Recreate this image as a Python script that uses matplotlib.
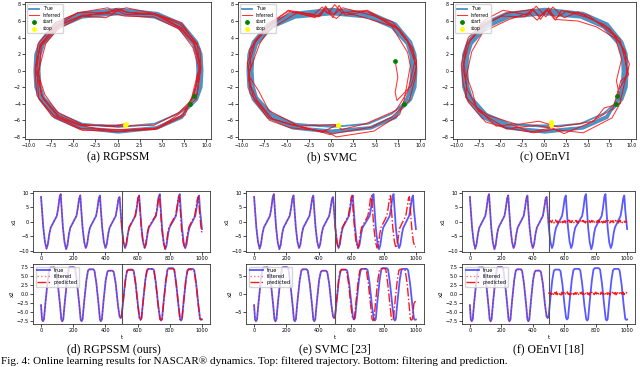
import numpy as np
import matplotlib
matplotlib.use("Agg")
import matplotlib.pyplot as plt

# ---------------- top row: NASCAR trajectories ----------------
true_xy = [
    (8.2, -4.0), (9.2, -2.0), (9.3, 0.0), (9.2, 2.0), (8.7, 3.3), (7.1, 5.5), (4.4, 6.8), (0.1, 7.2),
    (-4.2, 6.8), (-6.9, 5.5), (-8.5, 3.3), (-9.0, 2.0), (-9.1, 0.0), (-9.0, -2.0), (-8.5, -3.3), (-6.9, -5.5),
    (-4.2, -6.8), (0.1, -7.2), (4.4, -6.8), (7.1, -5.5),
    (9.0, -3.5), (9.5, -2.0), (9.6, 0.0), (9.5, 2.0), (9.0, 3.5), (7.3, 5.7), (4.5, 7.0), (0.1, 7.5),
    (-4.3, 7.0), (-7.1, 5.7), (-8.8, 3.5), (-9.3, 2.0), (-9.4, 0.0), (-9.3, -2.0), (-8.8, -3.5), (-7.1, -5.7),
    (-4.3, -7.0), (0.1, -7.5), (4.5, -7.0), (7.3, -5.7),
    (8.5, -3.2), (8.9, -1.8), (9.0, 0.0), (8.9, 1.8), (8.5, 3.2), (6.8, 5.2), (4.2, 6.4), (0.1, 6.8),
    (-4.0, 6.4), (-6.6, 5.2), (-8.3, 3.2), (-8.7, 1.8), (-8.8, 0.0), (-8.7, -1.8), (-8.3, -3.2), (-6.6, -5.2),
    (-4.0, -6.4), (0.1, -6.8), (4.2, -6.4), (6.8, -5.2),
    (8.8, -3.4), (9.3, -2.0), (9.4, 0.0), (9.3, 2.0), (8.8, 3.4), (7.2, 5.5), (4.4, 6.9), (0.1, 7.3),
    (-4.2, 6.9), (-7.0, 5.5), (-8.6, 3.4), (-9.1, 2.0), (-9.2, 0.0), (-9.1, -2.0), (-8.6, -3.4), (-7.0, -5.5),
    (-4.2, -6.9), (0.1, -7.3), (4.4, -6.9), (7.2, -5.5),
    (8.6, -3.2), (9.1, -1.9), (9.2, 0.0), (9.1, 1.9), (8.6, 3.2), (7.0, 5.3), (4.3, 6.6), (0.1, 7.0),
    (-4.1, 6.6), (-6.8, 5.3), (-8.4, 3.2), (-8.9, 1.9), (-9.0, 0.0), (-8.9, -1.9), (-8.4, -3.2), (-6.8, -5.3),
    (-4.1, -6.6), (0.8, -6.6),
]

inferred_rgpssm = [
    (8.6, -3.0), (9.1, -0.6), (9.4, 0.4), (8.7, 3.3), (7.2, 5.2), (4.2, 6.9), (1.2, 7.0), (0.3, 7.4),
    (-0.6, 6.9), (-4.0, 6.7), (-7.1, 5.3), (-8.7, 3.0), (-9.3, 0.3), (-8.4, -3.4), (-6.7, -5.6), (-4.3, -6.6),
    (-0.3, -7.4), (4.6, -6.9), (7.0, -5.2), (8.9, -3.4), (9.4, 0.3), (9.3, 2.6), (7.2, 5.8), (4.2, 6.9),
    (1.0, 7.6), (-0.5, 7.2), (-1.1, 7.6), (-4.5, 7.0), (-7.0, 5.8), (-9.0, 3.2), (-9.3, -0.4), (-9.1, -3.0),
    (-7.4, -5.5), (-4.0, -7.2), (0.4, -7.3), (4.3, -7.1), (7.6, -5.4), (8.4, -3.1), (9.2, 0.3), (8.5, 2.8),
    (7.0, 5.0), (4.1, 6.5), (0.8, 6.6), (-0.4, 6.9), (-1.3, 6.4), (-3.9, 6.6), (-6.8, 5.0), (-8.1, 3.3),
    (-9.0, -0.3), (-8.2, -2.9), (-6.8, -5.0), (-3.8, -6.6), (0.3, -6.7), (4.1, -6.6), (7.0, -5.0), (9.0, -2.8),
    (9.3, 0.3), (9.0, 3.3), (7.1, 5.6), (4.6, 6.7), (0.9, 7.1), (-0.2, 7.5), (-1.0, 7.0), (-4.5, 7.0),
    (-6.9, 5.4), (-8.8, 3.1), (-9.1, 0.2), (-8.9, -3.3), (-7.2, -5.4), (-4.1, -7.0), (0.3, -7.1), (4.3, -7.0),
    (7.4, -5.3), (8.5, -3.1), (9.4, 0.2), (8.6, 3.3), (7.1, 5.1), (4.2, 6.8), (0.9, 6.8), (-0.1, 7.3),
    (-4.3, 6.5), (-6.7, 5.4), (-8.6, 3.0), (-8.9, -0.3), (-8.6, -3.0), (-6.7, -5.4), (-4.3, -6.5), (-0.5, -6.7),
    (0.9, -6.4),
]

inferred_svmc = [
    (7.2, 1.2), (7.5, -0.8), (7.2, -2.6), (7.4, -3.6), (9.0, -1.8), (9.6, 0.5), (8.6, 3.5), (7.5, 5.0),
    (4.0, 7.2), (1.6, 6.7), (0.9, 7.9), (0.2, 6.4), (-0.6, 7.8), (-1.4, 6.5), (-4.6, 7.1), (-7.4, 5.0),
    (-8.6, 3.6), (-9.4, 0.9), (-9.0, -1.9), (-8.3, -3.6), (-6.6, -5.8), (-4.7, -6.4), (-1.4, -7.3), (-0.2, -7.7),
    (4.6, -6.8), (6.8, -5.6), (8.8, -3.6), (9.5, -0.6), (9.6, 1.2), (8.6, 3.7), (7.6, 5.1), (4.1, 7.3),
    (1.2, 7.0), (0.4, 8.0), (-0.3, 6.9), (-1.0, 7.7), (-1.9, 6.8), (-4.8, 7.2), (-6.7, 5.9), (-9.2, 2.5),
    (-9.0, 0.7), (-9.3, -0.9), (-8.6, -3.6), (-6.9, -6.0), (-4.6, -6.9), (-0.6, -7.3), (0.6, -8.0), (4.8, -7.3),
    (7.7, -5.3), (8.2, -3.6), (8.9, 0.6), (8.6, 2.2), (6.8, 5.4), (3.8, 6.4), (1.4, 7.1), (0.6, 6.3),
    (-0.8, 7.3), (-1.8, 6.4), (-3.8, 7.0), (-7.0, 4.9), (-8.0, 3.3), (-9.3, -0.5), (-8.1, -2.5), (-7.0, -4.8),
    (-3.6, -6.7), (0.5, -6.5), (1.2, -7.1), (3.9, -6.4), (7.3, -4.8), (8.6, -2.5), (9.4, 1.0), (9.2, 2.7),
    (6.9, 5.9), (4.9, 6.6), (1.3, 7.6), (0.3, 6.8), (-0.6, 7.6), (-1.2, 6.6), (-4.8, 7.3), (-6.6, 5.8),
    (-8.5, 3.5), (-9.3, 0.4), (-9.1, -2.7), (-6.8, -5.8), (-4.6, -6.5), (-1.0, -7.4), (0.8, -6.5),
]

inferred_oenvi = [
    (8.4, -3.0), (8.8, -1.2), (9.7, -0.5), (9.1, 2.1), (8.7, 3.8), (6.8, 5.6), (4.8, 6.5), (2.0, 7.3),
    (1.3, 6.1), (0.5, 7.6), (-0.4, 6.2), (-1.3, 7.5), (-2.2, 6.5), (-4.9, 6.6), (-7.2, 5.3), (-8.5, 3.7),
    (-9.2, 1.0), (-8.9, -1.9), (-9.0, -3.2), (-7.1, -5.1), (-5.5, -6.7), (-3.8, -6.5), (-1.5, -7.4), (0.9, -6.9),
    (2.3, -7.6), (5.0, -6.4), (6.2, -5.7), (7.9, -4.6), (8.5, -2.4), (9.4, -0.8), (9.8, 0.8), (8.7, 3.4),
    (7.5, 5.1), (3.9, 7.1), (2.3, 6.4), (1.0, 7.7), (0.2, 6.5), (-0.9, 7.8), (-1.8, 6.7), (-4.7, 7.3),
    (-6.7, 6.2), (-8.7, 4.0), (-9.5, 0.8), (-9.3, -1.5), (-8.7, -3.8), (-6.7, -6.2), (-4.3, -6.9), (-1.2, -7.5),
    (1.1, -7.1), (4.5, -7.5), (7.8, -5.7), (8.8, -3.8), (8.3, -1.2), (8.9, 1.4), (8.2, 3.9), (6.0, 5.3),
    (3.9, 6.0), (1.2, 6.2), (0.3, 7.4), (-0.8, 6.1), (-1.7, 7.0), (-4.0, 6.2), (-7.0, 4.7), (-8.3, 2.3),
    (-8.9, -0.6), (-8.2, -2.6), (-7.8, -4.4), (-6.4, -5.4), (-3.1, -6.5), (-0.6, -6.1), (1.6, -6.8), (5.7, -6.1),
    (6.9, -4.5), (8.7, -4.0), (9.5, -0.2), (9.3, 2.4), (8.0, 4.3), (5.1, 6.7), (2.6, 7.2), (1.4, 6.4),
    (0.4, 7.3), (-0.5, 6.6), (-1.4, 7.4), (-4.4, 6.9), (-6.8, 5.6), (-8.9, 3.1), (-9.3, 0.3), (-8.8, -2.3),
    (-7.5, -4.9), (-5.7, -6.1), (-4.3, -7.0), (-0.9, -6.6), (0.6, -6.9), (0.8, -6.2),
]

top_captions = ["(a) RGPSSM", "(b) SVMC", "(c) OEnVI"]
bottom_captions = ["(d) RGPSSM (ours)", "(e) SVMC [23]", "(f) OEnVI [18]"]

# ---------------- bottom rows: time series ----------------
x1_true = [
    (0, 8.5), (6, 4.0), (14, -2.0), (24, -6.8), (34, -9.2), (42, -7.8), (52, -4.0), (60, -2.0), (98, 2.0),
    (106, 4.5), (115, 8.3), (122, 9.5), (128, 4.5), (136, -2.0), (146, -7.0), (156, -9.4), (164, -8.0),
    (174, -4.0), (182, -2.0), (220, 2.0), (228, 4.5), (237, 8.0), (244, 9.0), (250, 4.0), (258, -2.0),
    (268, -6.8), (278, -9.0), (286, -7.8), (296, -4.0), (304, -2.0), (342, 2.0), (350, 4.5), (359, 8.0),
    (366, 9.0), (372, 4.0), (380, -2.0), (390, -6.8), (400, -9.0), (408, -7.8), (418, -4.0), (426, -2.0),
    (464, 2.0), (472, 4.5), (481, 7.8), (488, 8.5), (494, 4.0), (502, -2.0), (512, -6.8), (522, -9.0),
    (530, -7.8), (540, -4.0), (548, -2.0), (586, 2.0), (594, 4.5), (603, 8.0), (610, 9.0), (616, 4.0),
    (624, -2.0), (634, -6.8), (644, -9.0), (652, -7.8), (662, -4.0), (670, -2.0), (714, 2.0), (722, 4.5),
    (731, 8.5), (738, 9.5), (744, 4.5), (752, -2.0), (762, -7.0), (772, -9.4), (780, -8.0), (790, -4.0),
    (798, -2.0), (838, 2.0), (846, 4.5), (855, 8.5), (862, 9.5), (868, 4.5), (876, -2.0), (886, -7.0),
    (896, -9.0), (904, -7.8), (914, -4.0), (922, -2.0), (958, 2.0), (966, 4.5), (975, 8.0), (982, 9.0),
    (988, 4.0), (1000, -2.5),
]
x2_true = [
    (0, -3.0), (6, -7.0), (12, -7.5), (18, -7.0), (28, -2.0), (42, 4.0), (52, 7.1), (60, 7.5), (84, 7.5),
    (92, 7.1), (104, 3.0), (118, -3.0), (126, -7.0), (132, -7.5), (138, -7.0), (148, -2.0), (162, 4.0),
    (172, 7.2), (180, 7.6), (204, 7.6), (212, 7.2), (224, 3.0), (238, -3.0), (246, -7.0), (252, -7.5),
    (258, -7.0), (268, -2.0), (282, 4.0), (292, 6.6), (300, 7.0), (324, 7.0), (332, 6.6), (344, 3.0),
    (358, -3.0), (366, -7.0), (372, -7.5), (378, -7.0), (388, -2.0), (402, 4.0), (412, 6.2), (420, 6.6),
    (444, 6.6), (452, 6.2), (464, 3.0), (478, -3.0), (488, -6.2), (494, -6.6), (500, -6.3), (510, -2.0),
    (524, 4.0), (534, 6.5), (542, 6.9), (568, 6.9), (576, 6.5), (588, 3.0), (602, -3.0), (612, -6.6),
    (618, -7.0), (624, -6.6), (634, -2.0), (648, 4.0), (658, 6.7), (666, 7.1), (694, 7.1), (702, 6.7),
    (714, 3.0), (728, -3.0), (740, -6.9), (746, -7.3), (752, -6.9), (762, -2.0), (776, 4.0), (786, 6.9),
    (794, 7.3), (820, 7.3), (828, 6.9), (840, 3.0), (854, -3.0), (864, -6.9), (870, -7.3), (876, -6.9),
    (886, -2.0), (900, 4.0), (910, 6.7), (918, 7.1), (944, 7.1), (952, 6.7), (964, 3.0), (978, -3.0),
    (988, -6.8), (994, -7.1), (1000, -7.0),
]
x1_filtered = [
    (0, 8.6), (6, 4.1), (14, -2.1), (24, -6.9), (34, -9.3), (42, -7.7), (52, -4.1), (60, -2.0), (98, 2.1),
    (106, 4.4), (115, 8.4), (122, 9.6), (128, 4.4), (136, -2.1), (146, -7.1), (156, -9.3), (164, -8.1),
    (174, -3.9), (182, -2.1), (220, 2.1), (228, 4.6), (237, 8.1), (244, 9.1), (250, 3.9), (258, -2.1),
    (268, -6.9), (278, -9.1), (286, -7.7), (296, -4.1), (304, -1.9), (342, 2.1), (350, 4.4), (359, 8.1),
    (366, 8.9), (372, 4.1), (380, -2.1), (390, -6.9), (400, -8.9), (408, -7.9), (418, -3.9), (426, -2.1),
    (464, 2.1), (472, 4.4), (481, 7.9), (488, 8.6), (494, 3.9), (500, -0.5),
]
x2_filtered = [
    (0, -3.0), (6, -7.1), (12, -7.4), (18, -7.0), (28, -2.1), (42, 4.1), (52, 7.0), (60, 7.5), (68, 7.3),
    (76, 7.6), (84, 7.4), (92, 7.0), (104, 3.1), (118, -3.1), (126, -7.0), (132, -7.5), (138, -7.1),
    (148, -2.0), (162, 4.1), (172, 7.3), (180, 7.7), (188, 7.4), (196, 7.6), (204, 7.5), (212, 7.1),
    (224, 3.0), (238, -3.1), (246, -7.1), (252, -7.4), (258, -7.0), (268, -2.1), (282, 4.0), (292, 6.7),
    (300, 7.1), (308, 6.8), (316, 7.1), (324, 6.9), (332, 6.5), (344, 3.1), (358, -3.0), (366, -7.1),
    (372, -7.4), (378, -7.0), (388, -2.0), (402, 4.1), (412, 6.3), (420, 6.7), (428, 6.4), (436, 6.8),
    (444, 6.5), (452, 6.2), (464, 3.0), (478, -3.1), (488, -6.3), (494, -6.6), (500, -6.3),
]

# predictions (t >= 500)
x1_pred_rgpssm = [
    (500, 0.5), (504, -2.5), (512, -7.0), (522, -8.8), (530, -7.5), (540, -3.8), (548, -1.8), (586, 2.2),
    (594, 4.8), (603, 8.3), (609, 8.8), (615, 4.0), (623, -2.2), (633, -7.0), (643, -8.8), (651, -7.6),
    (661, -3.8), (669, -1.8), (713, 2.2), (721, 4.8), (730, 8.2), (736, 9.0), (742, 4.3), (750, -2.2),
    (760, -7.0), (770, -9.2), (778, -7.8), (788, -3.9), (796, -1.8), (836, 2.2), (844, 4.8), (853, 8.0),
    (859, 8.8), (865, 4.3), (873, -2.3), (883, -7.0), (893, -9.2), (901, -7.6), (911, -3.9), (919, -1.8),
    (955, 2.1), (963, 4.8), (972, 7.8), (978, 8.6), (984, 4.0), (992, -1.0), (1000, -4.0),
]
x2_pred_rgpssm = [
    (500, -6.3), (510, -2.2), (524, 3.8), (534, 6.4), (542, 6.8), (568, 6.8), (576, 6.4), (588, 2.8),
    (602, -3.2), (612, -6.8), (618, -7.2), (624, -6.8), (634, -2.2), (648, 3.8), (658, 6.6), (666, 7.0),
    (694, 7.0), (702, 6.6), (714, 2.8), (728, -3.2), (740, -7.0), (746, -7.2), (752, -6.8), (762, -2.2),
    (776, 3.8), (786, 6.8), (794, 7.1), (820, 7.1), (828, 6.8), (840, 2.8), (854, -3.2), (864, -7.0),
    (870, -7.2), (876, -6.8), (886, -2.2), (900, 3.8), (910, 6.6), (918, 6.9), (944, 6.9), (952, 6.6),
    (964, 2.8), (978, -3.2), (988, -6.8), (994, -7.0), (1000, -6.8),
]
x1_pred_svmc = [
    (500, -0.5), (502, -2.2), (511, -7.0), (520, -9.0), (528, -7.8), (537, -4.0), (545, -2.0), (582, 2.0),
    (590, 4.5), (600, 8.3), (606, 9.0), (612, 4.0), (620, -2.0), (630, -6.8), (640, -9.0), (648, -7.8),
    (657, -4.0), (664, -2.0), (703, 2.0), (711, 4.5), (720, 8.3), (726, 9.0), (732, 4.0), (740, -2.0),
    (750, -6.8), (760, -9.0), (768, -7.8), (777, -4.0), (784, -2.0), (820, 2.0), (828, 4.5), (837, 8.3),
    (843, 9.0), (849, 4.0), (857, -2.0), (867, -6.8), (877, -9.0), (885, -7.8), (894, -4.0), (901, -2.0),
    (937, 2.0), (945, 4.5), (954, 8.0), (960, 8.6), (966, 4.0), (974, -2.0), (984, -6.8), (994, -8.5),
    (1000, -8.6),
]
x2_pred_svmc = [
    (500, -6.4), (508, -2.5), (522, 4.0), (532, 6.4), (540, 6.9), (564, 6.9), (572, 6.5), (584, 3.0),
    (598, -3.0), (608, -6.6), (614, -7.0), (620, -6.6), (630, -2.0), (644, 4.0), (654, 6.7), (662, 7.1),
    (686, 7.1), (694, 6.7), (706, 3.0), (720, -3.0), (729, -6.9), (735, -7.3), (741, -6.9), (751, -2.0),
    (765, 4.0), (775, 6.9), (783, 7.2), (806, 7.2), (814, 6.9), (826, 3.0), (840, -3.0), (849, -6.9),
    (855, -7.3), (861, -6.9), (871, -2.0), (885, 4.0), (895, 6.7), (903, 7.0), (926, 7.0), (934, 6.7),
    (946, 3.0), (958, -3.0), (966, -6.9), (972, -7.2), (978, -6.9), (988, -2.5), (1000, -1.8),
]
t_pred_oenvi = list(range(500, 1001, 5))
x1_pred_oenvi = [
    0.3, -0.2, 0.4, 0.1, -0.3, 0.5, 0.0, -0.4, 0.2, 0.6, -0.1, 0.3, -0.5, 0.1, 0.4, -0.2, 0.0, 0.5, -0.3, 0.2,
    -0.1, 0.4, -0.4, 0.3, 0.1, -0.2, 0.6, -0.1, 0.2, -0.3, 0.4, 0.0, -0.5, 0.3, 0.1, 0.5, -0.2, 0.2, -0.4, 0.3,
    0.0, 0.4, -0.3, 0.1, 0.5, -0.1, 0.2, -0.4, 0.3, 0.6, -0.2, 0.1, 0.4, -0.3, 0.0, 0.5, -0.1, 0.3, -0.4, 0.2,
    0.1, -0.3, 0.4, 0.0, 0.6, -0.2, 0.3, -0.1, 0.5, -0.4, 0.2, 0.1, -0.3, 0.4, 0.0, -0.2, 0.5, 0.1, -0.4, 0.3,
    0.2, -0.1, 0.4, -0.3, 0.0, 0.5, -0.2, 0.3, 0.1, -0.4, 0.2, 0.6, -0.1, 0.3, -0.3, 0.1, 0.4, -0.2, 0.2, 0.0, 0.1,
]
x2_pred_oenvi = [
    0.2, 0.5, -0.1, 0.4, 0.0, 0.6, 0.2, -0.2, 0.5, 0.1, 0.7, -0.1, 0.3, 0.5, 0.0, 0.4, -0.2, 0.6, 0.1, 0.3,
    0.5, -0.1, 0.4, 0.2, 0.7, 0.0, 0.3, -0.2, 0.5, 0.1, 0.4, 0.6, -0.1, 0.2, 0.5, 0.0, 0.3, 0.7, 0.1, -0.2,
    0.4, 0.2, 0.6, 0.0, 0.3, -0.1, 0.5, 0.2, 0.4, 0.7, 0.0, 0.3, -0.2, 0.5, 0.1, 0.6, 0.2, 0.4, -0.1, 0.3,
    0.6, 0.1, 0.4, -0.2, 0.5, 0.3, 0.0, 0.6, 0.2, 0.4, -0.1, 0.5, 0.1, 0.3, 0.7, 0.0, 0.4, 0.2, -0.2, 0.5,
    0.3, 0.6, 0.0, 0.4, 0.1, 0.5, -0.1, 0.3, 0.6, 0.2, 0.4, 0.0, 0.5, 0.1, 0.3, 0.6, -0.1, 0.4, 0.2, 0.5, 0.2,
]

fig_caption = "Fig. 4: Online learning results for NASCAR\u00ae dynamics. Top: filtered trajectory. Bottom: filtering and prediction."

# ---------------- drawing ----------------
W, H = 640, 367
fig = plt.figure(figsize=(6.4, 3.67), dpi=100)
serif = ["Liberation Serif", "DejaVu Serif"]


def ax_at(l, t, r, b):
    return fig.add_axes([l / W, 1 - b / H, (r - l) / W, (b - t) / H])


def style(ax, fs):
    for s in ax.spines.values():
        s.set_linewidth(0.6)
        s.set_color("#333333")
    ax.tick_params(labelsize=fs, length=2, width=0.5, pad=1)


def xy(pts):
    a = np.array(pts, dtype=float)
    return a[:, 0], a[:, 1]


top_boxes = [(25, 2, 211, 139), (238, 2, 425, 139), (453, 2, 636, 139)]
inferred_all = [inferred_rgpssm, inferred_svmc, inferred_oenvi]
tx, ty = xy(true_xy)
for box, inf, cap in zip(top_boxes, inferred_all, top_captions):
    ax = ax_at(*box)
    ix, iy = xy(inf)
    ax.plot(tx, ty, color="#1f77b4", lw=1.3, alpha=0.8, label="True")
    ax.plot(ix, iy, color="red", lw=0.75, alpha=0.8, label="Inferred")
    ax.scatter([tx[0], ix[0]], [ty[0], iy[0]], color="green", s=6, zorder=5, label="start")
    ax.scatter([tx[-1], ix[-1]], [ty[-1], iy[-1]], color="yellow", s=6, zorder=5, label="stop")
    ax.set_xlim(-10.45, 10.55)
    ax.set_ylim(-8.25, 8.3)
    ax.set_xticks(np.arange(-10, 10.1, 2.5))
    ax.set_yticks(np.arange(-8, 8.1, 2))
    style(ax, 3.3)
    ax.legend(loc="upper left", fontsize=3.3, handlelength=2.2, borderpad=0.4,
              labelspacing=0.35, framealpha=0.8, edgecolor="#cccccc", fancybox=True)
    cx = (box[0] + box[2]) / 2 / W
    fig.text(cx, 1 - 157 / H, cap, ha="center", va="center", fontsize=8.5, family=serif)

bot_x = [(33, 210), (246, 424), (462, 635)]
x1_preds = [x1_pred_rgpssm, x1_pred_svmc, None]
x2_preds = [x2_pred_rgpssm, x2_pred_svmc, None]
for k, ((l, r), cap) in enumerate(zip(bot_x, bottom_captions)):
    ax1 = ax_at(l, 191, r, 252)
    ax2 = ax_at(l, 264, r, 324)
    for ax, tru, filt, pred, oen, lab in [
        (ax1, x1_true, x1_filtered, x1_preds[k], x1_pred_oenvi, "x1"),
        (ax2, x2_true, x2_filtered, x2_preds[k], x2_pred_oenvi, "x2"),
    ]:
        t0, v0 = xy(tru)
        t1, v1 = xy(filt)
        if pred is not None:
            t2, v2 = xy(pred)
        else:
            t2, v2 = np.array(t_pred_oenvi, float), np.array(oen, float)
        ax.plot(t0, v0, color="blue", lw=1.3, alpha=0.65, label="true")
        ax.plot(t1, v1, color="red", lw=1.0, ls=":", alpha=0.55, label="filtered")
        ax.plot(t2, v2, color="red", lw=1.0, ls="-.", alpha=0.9, label="predicted")
        ax.axvline(500, color="#555555", lw=0.8)
        ax.set_xlim(-50, 1050)
        ax.set_xticks(np.arange(0, 1001, 200))
        ax.set_ylabel(lab, fontsize=4, labelpad=1)
        style(ax, 3.6)
    ax1.set_yticks([-10, -5, 0, 5, 10])
    if k == 1:
        ax2.set_yticks([-5, 0, 5])
    else:
        ax2.set_yticks([-7.5, -5.0, -2.5, 0.0, 2.5, 5.0, 7.5])
    ax2.set_xlabel("t", fontsize=4, labelpad=1)
    ax2.legend(loc="upper left", fontsize=3.6, handlelength=2.5, borderpad=0.3,
               labelspacing=0.2, framealpha=0.8, edgecolor="#cccccc")
    cx = (l + r) / 2 / W
    fig.text(cx - 0.012 if k == 0 else cx, 1 - 349 / H, cap, ha="center", va="center",
             fontsize=8.5, family=serif)

fig.text(0.002, 0.002, fig_caption, ha="left", va="bottom", fontsize=8, family=serif)

fig.savefig("out.png", dpi=100)
